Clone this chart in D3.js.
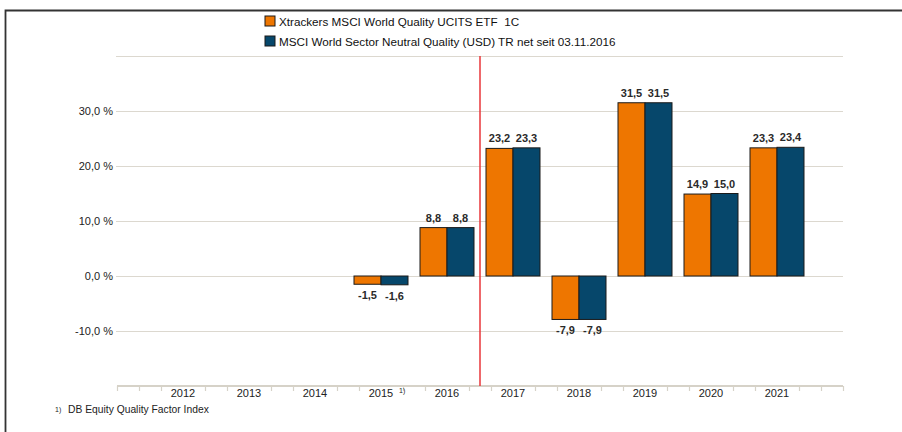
<!DOCTYPE html>
<html>
<head>
<meta charset="utf-8">
<script src="https://cdn.jsdelivr.net/npm/d3@7"></script>
<style>
  body { margin: 0; background: #fff; }
  text { font-family: "Liberation Sans", Arial, sans-serif; white-space: pre; }
</style>
</head>
<body>
<div id="chart"></div>
<script>
// chart data
var years = [2012, 2013, 2014, 2015, 2016, 2017, 2018, 2019, 2020, 2021];
var etfValues = [null, null, null, -1.5, 8.8, 23.2, -7.9, 31.5, 14.9, 23.3];
var indexValues = [null, null, null, -1.6, 8.8, 23.3, -7.9, 31.5, 15.0, 23.4];
var seriesNames = ["Xtrackers MSCI World Quality UCITS ETF  1C",
                   "MSCI World Sector Neutral Quality (USD) TR net seit 03.11.2016"];
var yTicks = [-10, 0, 10, 20, 30];
var footnote = "DB Equity Quality Factor Index";

var width = 902, height = 432;
var colors = ["#ee7600", "#06476b"];

// german number format, plain hyphen for minus
function fmt(v) {
  return d3.format(".1f")(v).replace(".", ",").replace("\u2212", "-");
}

var svg = d3.select("#chart").append("svg")
    .attr("width", width)
    .attr("height", height);

// outer frame (top + left)
svg.append("path")
    .attr("d", "M5.5,432 L5.5,10.5 L902,10.5")
    .attr("fill", "none")
    .attr("stroke", "#333")
    .attr("stroke-width", 1.8);

// scales
var x = d3.scaleLinear().domain([2011, 2022]).range([117, 843]);
var y = d3.scaleLinear().domain([-20, 40]).range([386, 56]);
var sub = d3.scaleBand().domain([0, 1]).range([-27, 27]);

// grid lines
svg.append("g").selectAll("line")
  .data(d3.range(-10, 41, 10))
  .join("line")
    .attr("x1", 116).attr("x2", 843)
    .attr("y1", function(d) { return Math.round(y(d)) + 0.5; })
    .attr("y2", function(d) { return Math.round(y(d)) + 0.5; })
    .attr("stroke", "#dcd8cf")
    .attr("stroke-width", 1.2);

// y labels
svg.append("g").selectAll("text")
  .data(yTicks)
  .join("text")
    .attr("x", 113)
    .attr("y", function(d) { return y(d) + 4; })
    .attr("text-anchor", "end")
    .attr("font-size", 11)
    .attr("fill", "#222")
    .text(function(d) { return fmt(d) + " %"; });

// bottom axis
svg.append("line")
    .attr("x1", 117).attr("x2", 843)
    .attr("y1", y(-20)).attr("y2", y(-20))
    .attr("stroke", "#d6d2c8")
    .attr("stroke-width", 2.2);

var minor = d3.range(0, 34).map(function(i) { return 2011 + i / 3; })
    .filter(function(d, i) { return i % 3 !== 0 || i === 0 || i === 33; });
svg.append("g").selectAll("line")
  .data(minor)
  .join("line")
    .attr("x1", function(d) { return Math.round(x(d)) + 0.5; })
    .attr("x2", function(d) { return Math.round(x(d)) + 0.5; })
    .attr("y1", y(-20)).attr("y2", y(-20) + 5)
    .attr("stroke", "#d6d2c8")
    .attr("stroke-width", 1.2);

svg.append("g").selectAll("text")
  .data(years)
  .join("text")
    .attr("x", function(d) { return x(d); })
    .attr("y", 397)
    .attr("text-anchor", "middle")
    .attr("font-size", 11)
    .attr("fill", "#222")
    .text(function(d) { return d; });

// footnote marker on 2015
svg.append("text")
    .attr("x", x(2015) + 18)
    .attr("y", 393)
    .attr("font-size", 7)
    .attr("fill", "#222")
    .text("1)");

// bars
var rows = [];
years.forEach(function(yr, i) {
  [etfValues[i], indexValues[i]].forEach(function(v, s) {
    if (v !== null) rows.push({ year: yr, s: s, v: v });
  });
});

svg.append("g").selectAll("rect")
  .data(rows)
  .join("rect")
    .attr("x", function(d) { return x(d.year) + sub(d.s); })
    .attr("y", function(d) { return y(Math.max(0, d.v)); })
    .attr("width", sub.bandwidth())
    .attr("height", function(d) { return Math.abs(y(d.v) - y(0)); })
    .attr("fill", function(d) { return colors[d.s]; })
    .attr("stroke", "#1a1a1a")
    .attr("stroke-width", 1);

svg.append("g").selectAll("text")
  .data(rows)
  .join("text")
    .attr("x", function(d) { return x(d.year) + sub(d.s) + sub.bandwidth() / 2; })
    .attr("y", function(d) { return d.v >= 0 ? y(d.v) - 6 : y(d.v) + 15; })
    .attr("text-anchor", "middle")
    .attr("font-size", 11)
    .attr("font-weight", "bold")
    .attr("fill", "#2a2a2a")
    .text(function(d) { return fmt(d.v); });

// red separator line between 2016 and 2017
svg.append("line")
    .attr("x1", x(2016.5)).attr("x2", x(2016.5))
    .attr("y1", y(40)).attr("y2", y(-20))
    .attr("stroke", "#e8363a")
    .attr("stroke-width", 1.5);

// legend
var legend = svg.append("g").selectAll("g")
  .data(seriesNames)
  .join("g")
    .attr("transform", function(d, i) { return "translate(265," + (16 + i * 20) + ")"; });
legend.append("rect")
    .attr("width", 10).attr("height", 10)
    .attr("fill", function(d, i) { return colors[i]; })
    .attr("stroke", "#1a1a1a");
legend.append("text")
    .attr("x", 14).attr("y", 9.5)
    .attr("font-size", 11.7)
    .attr("fill", "#111")
    .text(function(d) { return d; });

// footnote
svg.append("text")
    .attr("x", 55).attr("y", 412)
    .attr("font-size", 7)
    .attr("fill", "#222")
    .text("1)");
svg.append("text")
    .attr("x", 68).attr("y", 413)
    .attr("font-size", 10.3)
    .attr("fill", "#222")
    .text(footnote);
</script>
</body>
</html>
